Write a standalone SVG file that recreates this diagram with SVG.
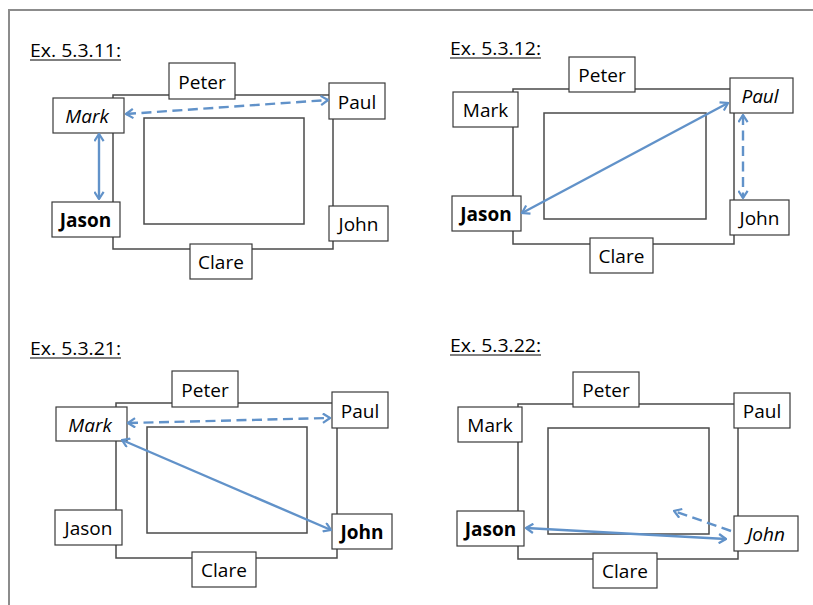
<svg xmlns="http://www.w3.org/2000/svg" width="813" height="605" viewBox="0 0 813 605">
  <style>
    .frame { fill: none; stroke: #8c8c8c; stroke-width: 2; }
    .room { fill: none; stroke: #4a4a4a; stroke-width: 1.5; }
    .box { fill: #ffffff; stroke: #3a3a3a; stroke-width: 1.2; }
    .name { font-family: "Open Sans", "Liberation Sans", sans-serif; font-size: 19px; fill: #000; text-anchor: middle; }
    .title { font-family: "Open Sans", "Liberation Sans", sans-serif; font-size: 18px; fill: #000; }
    .uline { stroke: #000; stroke-width: 1.2; }
    .b { font-weight: bold; }
    .i { font-style: italic; }
    .link { fill: none; stroke: #6192c9; stroke-width: 2.4; }
    .dash { stroke-dasharray: 10 5.5; }
  </style>
  <defs>
    <marker id="head" viewBox="0 0 10 10" refX="9" refY="5" markerWidth="11" markerHeight="11" markerUnits="userSpaceOnUse" orient="auto-start-reverse">
      <path d="M2.5,0.8 L9,5 L2.5,9.2" fill="none" stroke="#6192c9" stroke-width="2"/>
    </marker>
  </defs>

  <rect width="813" height="605" fill="#ffffff"/>
  <path class="frame" d="M9,605 V10 H813"/>

  <!-- Panel Ex. 5.3.11 -->
  <g id="ex-5-3-11">
    <text class="title" x="30" y="57" textLength="91" lengthAdjust="spacingAndGlyphs">Ex. 5.3.11:</text>
    <line class="uline" x1="30" y1="60" x2="121" y2="60"/>
    <rect class="room" x="113" y="95" width="220" height="154"/>
    <rect class="room" x="144" y="118" width="160" height="106"/>
  </g>
  <g id="p1-peter"><rect class="box" x="169" y="63" width="66" height="36"/><text class="name" x="202" y="89">Peter</text></g>
  <g id="p1-paul"><rect class="box" x="329" y="83" width="56" height="36"/><text class="name" x="357" y="108.5">Paul</text></g>
  <g id="p1-mark"><rect class="box" x="53" y="98" width="71" height="35"/><text class="name i" x="87" y="123">Mark</text></g>
  <g id="p1-jason"><rect class="box" x="52" y="202" width="68" height="35"/><text class="name b" x="85.5" y="227">Jason</text></g>
  <g id="p1-john"><rect class="box" x="329" y="206" width="59" height="35"/><text class="name" x="358.5" y="231">John</text></g>
  <g id="p1-clare"><rect class="box" x="190" y="244" width="62" height="35"/><text class="name" x="221" y="269">Clare</text></g>

  <!-- Panel Ex. 5.3.12 -->
  <g id="ex-5-3-12">
    <text class="title" x="450" y="55" textLength="91" lengthAdjust="spacingAndGlyphs">Ex. 5.3.12:</text>
    <line class="uline" x1="450" y1="58" x2="541" y2="58"/>
    <rect class="room" x="513" y="89" width="221" height="155"/>
    <rect class="room" x="544" y="113" width="162" height="106"/>
  </g>
  <g id="p2-peter"><rect class="box" x="569" y="57" width="66" height="35"/><text class="name" x="602" y="82">Peter</text></g>
  <g id="p2-paul"><rect class="box" x="730" y="78" width="63" height="35"/><text class="name i" x="760" y="103">Paul</text></g>
  <g id="p2-mark"><rect class="box" x="453" y="92" width="65" height="35"/><text class="name" x="485.5" y="117">Mark</text></g>
  <g id="p2-jason"><rect class="box" x="452" y="196" width="69" height="35"/><text class="name b" x="486" y="221">Jason</text></g>
  <g id="p2-john"><rect class="box" x="730" y="200" width="59" height="35"/><text class="name" x="759.5" y="225">John</text></g>
  <g id="p2-clare"><rect class="box" x="590" y="238" width="63" height="35"/><text class="name" x="621.5" y="263">Clare</text></g>

  <!-- Panel Ex. 5.3.21 -->
  <g id="ex-5-3-21">
    <text class="title" x="30" y="355" textLength="91" lengthAdjust="spacingAndGlyphs">Ex. 5.3.21:</text>
    <line class="uline" x1="30" y1="358" x2="121" y2="358"/>
    <rect class="room" x="116" y="403" width="221" height="155"/>
    <rect class="room" x="147" y="427" width="160" height="106"/>
  </g>
  <g id="p3-peter"><rect class="box" x="172" y="371" width="66" height="36"/><text class="name" x="205" y="397">Peter</text></g>
  <g id="p3-paul"><rect class="box" x="332" y="392" width="56" height="36"/><text class="name" x="360" y="417.5">Paul</text></g>
  <g id="p3-mark"><rect class="box" x="56" y="407" width="71" height="34"/><text class="name i" x="90" y="431.5">Mark</text></g>
  <g id="p3-jason"><rect class="box" x="55" y="510" width="67" height="35"/><text class="name" x="88.5" y="535">Jason</text></g>
  <g id="p3-john"><rect class="box" x="332" y="514" width="60" height="35"/><text class="name b" x="362" y="539">John</text></g>
  <g id="p3-clare"><rect class="box" x="192" y="552" width="64" height="35"/><text class="name" x="224" y="577">Clare</text></g>

  <!-- Panel Ex. 5.3.22 -->
  <g id="ex-5-3-22">
    <text class="title" x="450" y="352" textLength="91" lengthAdjust="spacingAndGlyphs">Ex. 5.3.22:</text>
    <line class="uline" x1="450" y1="355" x2="541" y2="355"/>
    <rect class="room" x="518" y="404" width="220" height="155"/>
    <rect class="room" x="548" y="428" width="161" height="106"/>
  </g>
  <g id="p4-peter"><rect class="box" x="573" y="372" width="66" height="35"/><text class="name" x="606" y="397">Peter</text></g>
  <g id="p4-paul"><rect class="box" x="734" y="393" width="56" height="35"/><text class="name" x="762" y="418">Paul</text></g>
  <g id="p4-mark"><rect class="box" x="458" y="407" width="64" height="35"/><text class="name" x="490" y="432">Mark</text></g>
  <g id="p4-jason"><rect class="box" x="457" y="511" width="67" height="35"/><text class="name b" x="490.5" y="536">Jason</text></g>
  <g id="p4-john"><rect class="box" x="734" y="516" width="64" height="35"/><text class="name i" x="766" y="541">John</text></g>
  <g id="p4-clare"><rect class="box" x="593" y="553" width="64" height="35"/><text class="name" x="625" y="578">Clare</text></g>

  <!-- Connectors -->
  <g id="connectors">
    <line class="link dash" x1="126" y1="114" x2="328" y2="100" marker-start="url(#head)" marker-end="url(#head)"/>
    <line class="link" x1="99" y1="134" x2="99" y2="199" marker-start="url(#head)" marker-end="url(#head)"/>

    <line class="link" x1="522" y1="213" x2="728" y2="103" marker-start="url(#head)" marker-end="url(#head)"/>
    <line class="link dash" x1="743" y1="115" x2="743" y2="198" marker-start="url(#head)" marker-end="url(#head)"/>

    <line class="link dash" x1="128" y1="423" x2="330" y2="418" marker-start="url(#head)" marker-end="url(#head)"/>
    <line class="link" x1="122" y1="440" x2="331" y2="530" marker-start="url(#head)" marker-end="url(#head)"/>

    <line class="link" x1="526" y1="528" x2="726" y2="539" marker-start="url(#head)" marker-end="url(#head)"/>
    <line class="link dash" x1="731" y1="531" x2="674" y2="511" marker-end="url(#head)"/>
  </g>
</svg>
